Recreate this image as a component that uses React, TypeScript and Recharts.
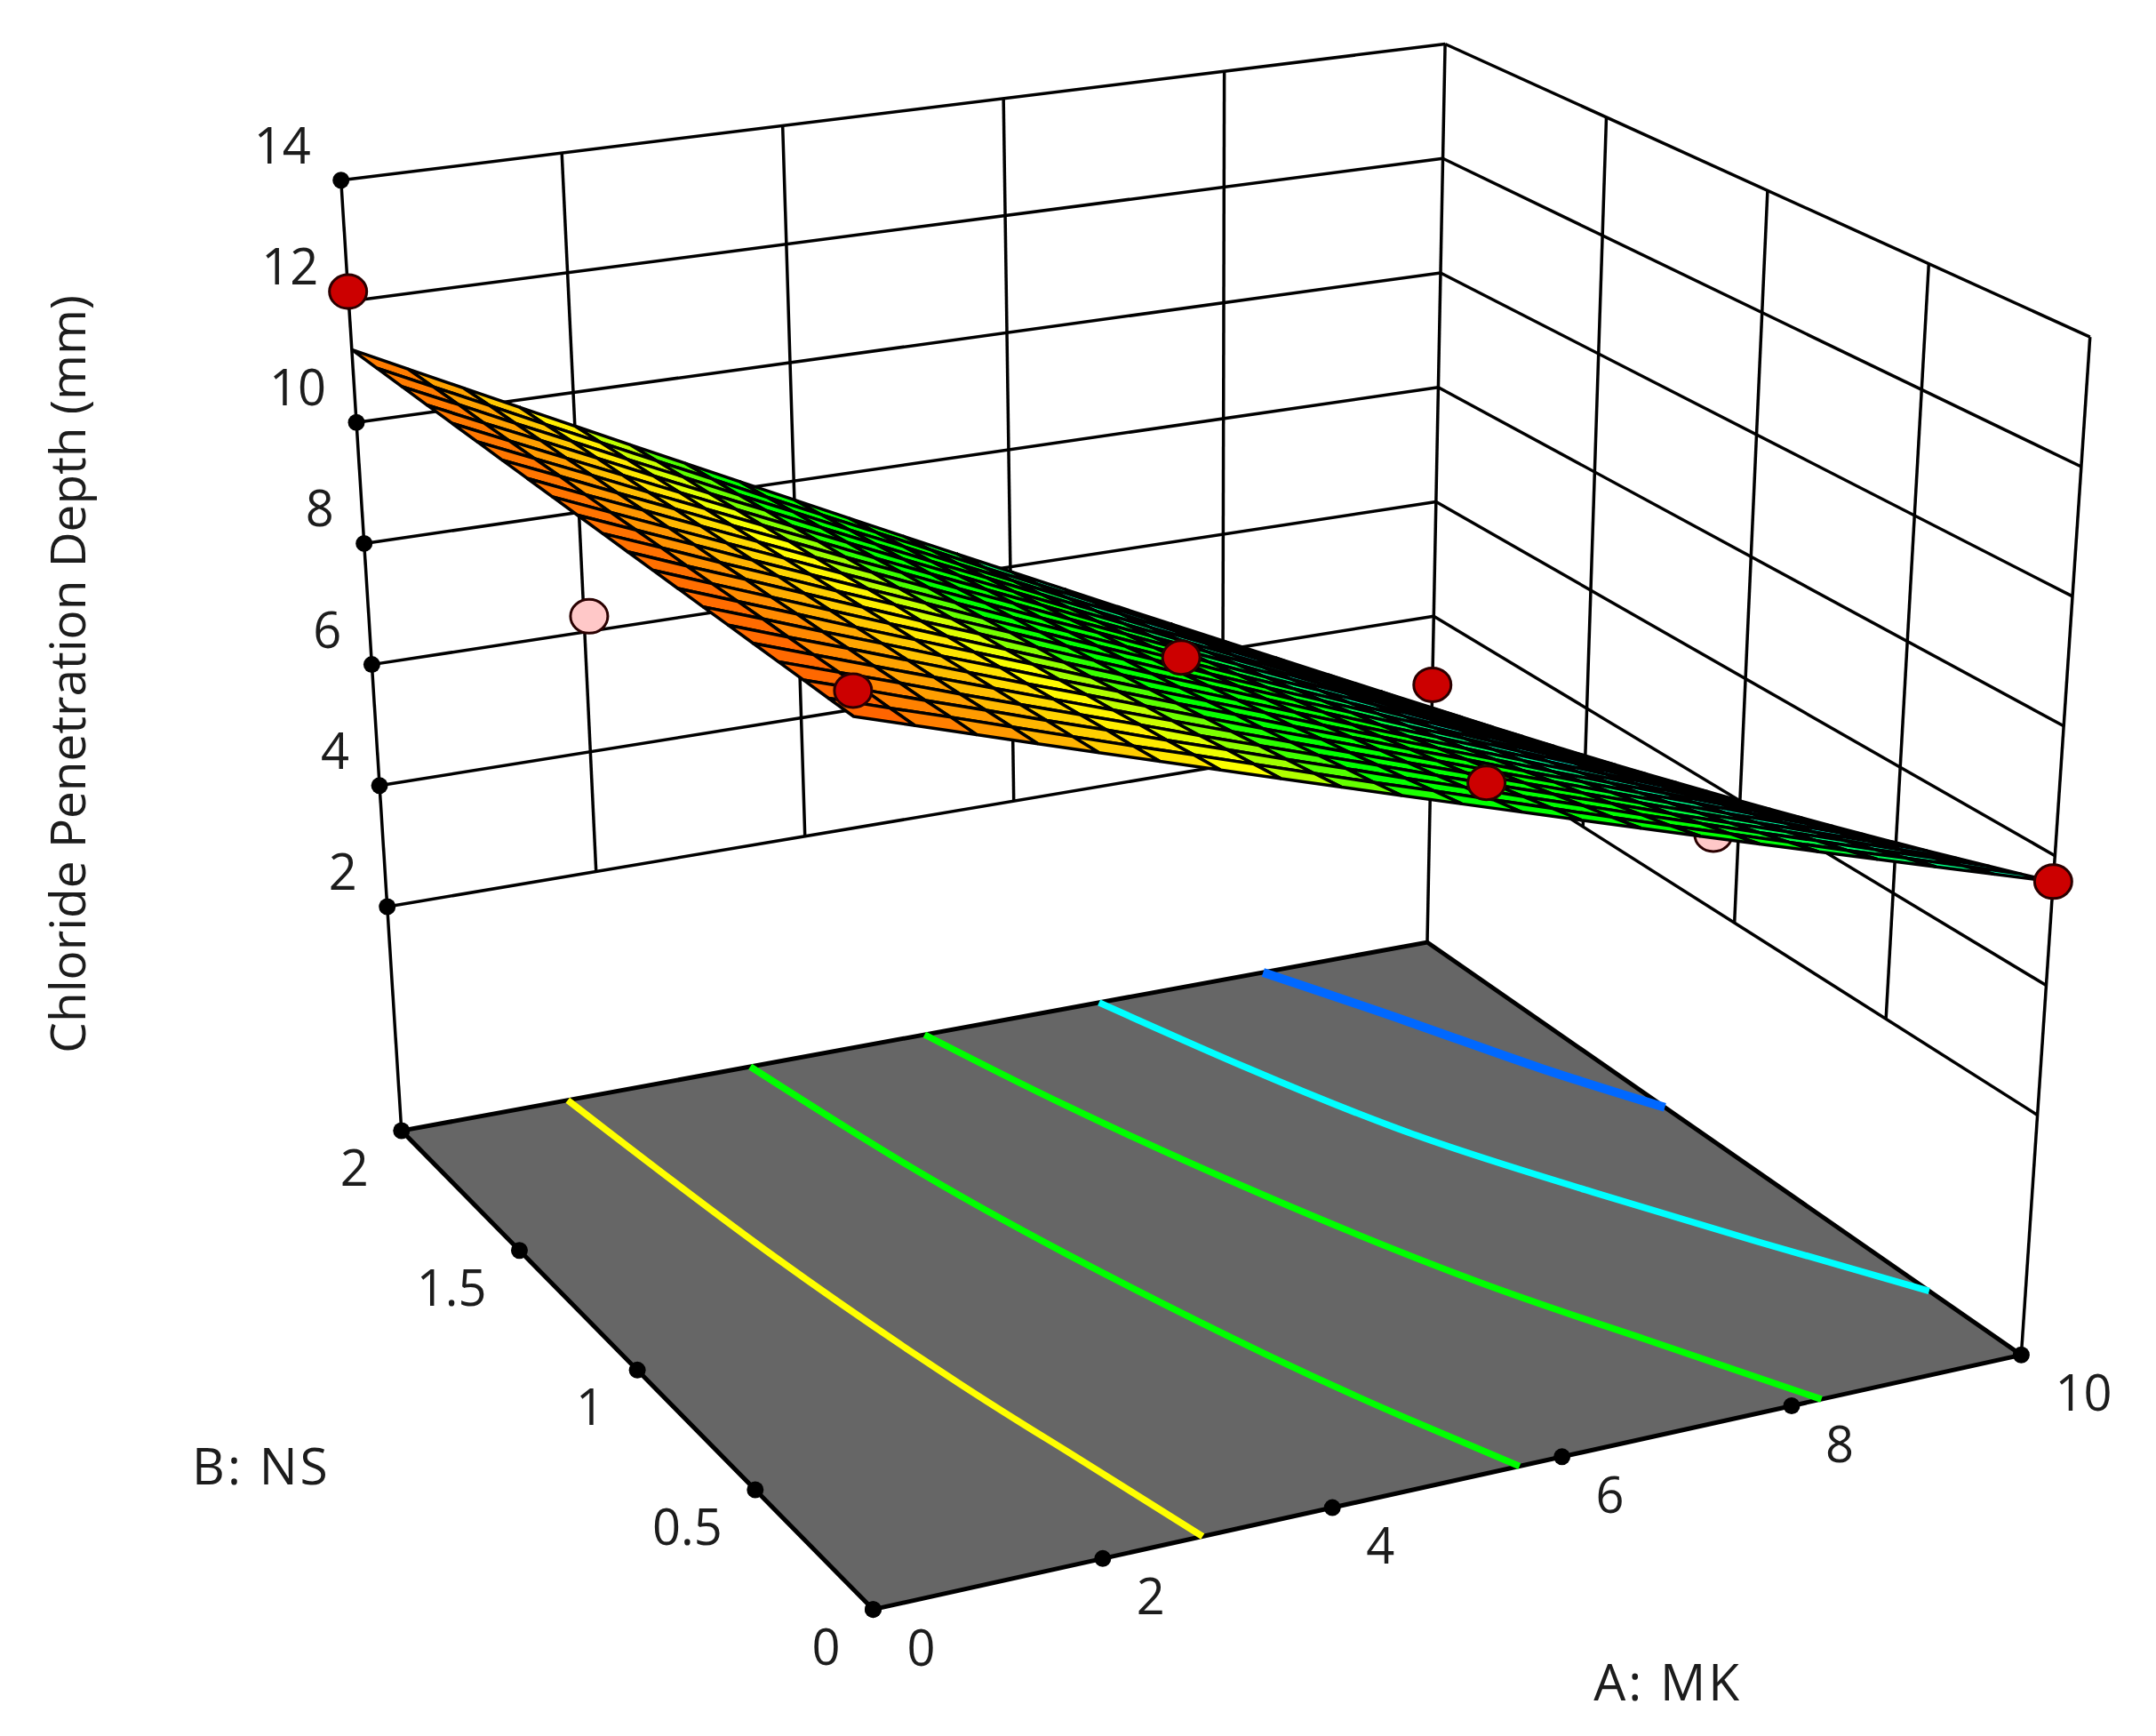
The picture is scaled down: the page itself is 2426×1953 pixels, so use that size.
import { Polygon, Scatter, ScatterChart, XAxis, YAxis } from "recharts";

const A_TICKS = [0, 2, 4, 6, 8, 10];
const B_TICKS = [0, 0.5, 1, 1.5, 2];
const Z_TICKS = [2, 4, 6, 8, 10, 12, 14];

const GRID_A = [0, 0.5, 1, 1.5, 2, 2.5, 3, 3.5, 4, 4.5, 5, 5.5, 6, 6.5, 7, 7.5, 8, 8.5, 9, 9.5, 10];
const GRID_B = [0, 0.1, 0.2, 0.3, 0.4, 0.5, 0.6, 0.7, 0.8, 0.9, 1, 1.1, 1.2, 1.3, 1.4, 1.5, 1.6, 1.7, 1.8, 1.9, 2];

// depth, one row per GRID_B value
const DEPTH = [
  [11.4, 11.11, 10.82, 10.53, 10.24, 9.95, 9.66, 9.37, 9.08, 8.79, 8.5, 8.21, 7.92, 7.63, 7.34, 7.05, 6.76, 6.47, 6.18, 5.89, 5.6],
  [11.39, 11.09, 10.8, 10.5, 10.2, 9.9, 9.61, 9.31, 9.01, 8.71, 8.42, 8.12, 7.82, 7.52, 7.22, 6.93, 6.63, 6.33, 6.04, 5.74, 5.44],
  [11.38, 11.08, 10.77, 10.47, 10.16, 9.86, 9.55, 9.25, 8.94, 8.64, 8.33, 8.03, 7.72, 7.42, 7.11, 6.81, 6.5, 6.2, 5.89, 5.59, 5.28],
  [11.37, 11.06, 10.75, 10.43, 10.12, 9.81, 9.5, 9.18, 8.87, 8.56, 8.25, 7.93, 7.62, 7.31, 7.0, 6.68, 6.37, 6.06, 5.75, 5.43, 5.12],
  [11.36, 11.04, 10.72, 10.4, 10.08, 9.76, 9.44, 9.12, 8.8, 8.48, 8.16, 7.84, 7.52, 7.2, 6.88, 6.56, 6.24, 5.92, 5.6, 5.28, 4.96],
  [11.35, 11.02, 10.7, 10.37, 10.04, 9.71, 9.39, 9.06, 8.73, 8.4, 8.08, 7.75, 7.42, 7.09, 6.77, 6.44, 6.11, 5.78, 5.46, 5.13, 4.8],
  [11.34, 11.01, 10.67, 10.34, 10.0, 9.67, 9.33, 9.0, 8.66, 8.33, 7.99, 7.66, 7.32, 6.99, 6.65, 6.32, 5.98, 5.65, 5.31, 4.98, 4.64],
  [11.33, 10.99, 10.65, 10.3, 9.96, 9.62, 9.28, 8.93, 8.59, 8.25, 7.91, 7.56, 7.22, 6.88, 6.54, 6.19, 5.85, 5.51, 5.17, 4.82, 4.48],
  [11.32, 10.97, 10.62, 10.27, 9.92, 9.57, 9.22, 8.87, 8.52, 8.17, 7.82, 7.47, 7.12, 6.77, 6.42, 6.07, 5.72, 5.37, 5.02, 4.67, 4.32],
  [11.31, 10.95, 10.6, 10.24, 9.88, 9.52, 9.17, 8.81, 8.45, 8.09, 7.74, 7.38, 7.02, 6.66, 6.31, 5.95, 5.59, 5.23, 4.88, 4.52, 4.16],
  [11.3, 10.94, 10.57, 10.21, 9.84, 9.48, 9.11, 8.75, 8.38, 8.02, 7.65, 7.29, 6.92, 6.56, 6.19, 5.83, 5.46, 5.1, 4.73, 4.37, 4.0],
  [11.29, 10.92, 10.55, 10.17, 9.8, 9.43, 9.06, 8.68, 8.31, 7.94, 7.57, 7.19, 6.82, 6.45, 6.08, 5.7, 5.33, 4.96, 4.59, 4.21, 3.84],
  [11.28, 10.9, 10.52, 10.14, 9.76, 9.38, 9.0, 8.62, 8.24, 7.86, 7.48, 7.1, 6.72, 6.34, 5.96, 5.58, 5.2, 4.82, 4.44, 4.06, 3.68],
  [11.27, 10.88, 10.5, 10.11, 9.72, 9.33, 8.95, 8.56, 8.17, 7.78, 7.4, 7.01, 6.62, 6.23, 5.85, 5.46, 5.07, 4.68, 4.3, 3.91, 3.52],
  [11.26, 10.87, 10.47, 10.08, 9.68, 9.29, 8.89, 8.5, 8.1, 7.71, 7.31, 6.92, 6.52, 6.13, 5.73, 5.34, 4.94, 4.55, 4.15, 3.76, 3.36],
  [11.25, 10.85, 10.45, 10.04, 9.64, 9.24, 8.84, 8.43, 8.03, 7.63, 7.23, 6.82, 6.42, 6.02, 5.62, 5.21, 4.81, 4.41, 4.01, 3.6, 3.2],
  [11.24, 10.83, 10.42, 10.01, 9.6, 9.19, 8.78, 8.37, 7.96, 7.55, 7.14, 6.73, 6.32, 5.91, 5.5, 5.09, 4.68, 4.27, 3.86, 3.45, 3.04],
  [11.23, 10.81, 10.4, 9.98, 9.56, 9.14, 8.73, 8.31, 7.89, 7.47, 7.06, 6.64, 6.22, 5.8, 5.39, 4.97, 4.55, 4.13, 3.72, 3.3, 2.88],
  [11.22, 10.8, 10.37, 9.95, 9.52, 9.1, 8.67, 8.25, 7.82, 7.4, 6.97, 6.55, 6.12, 5.7, 5.27, 4.85, 4.42, 4.0, 3.57, 3.15, 2.72],
  [11.21, 10.78, 10.35, 9.91, 9.48, 9.05, 8.62, 8.18, 7.75, 7.32, 6.89, 6.45, 6.02, 5.59, 5.16, 4.72, 4.29, 3.86, 3.43, 2.99, 2.56],
  [11.2, 10.76, 10.32, 9.88, 9.44, 9.0, 8.56, 8.12, 7.68, 7.24, 6.8, 6.36, 5.92, 5.48, 5.04, 4.6, 4.16, 3.72, 3.28, 2.84, 2.4],
];

// design points as [A, B, depth]
const POINTS_ABOVE = [
  [0, 2, 12.16],
  [0, 0, 11.78],
  [5, 1, 7.9],
  [10, 2, 2.8],
  [5.2, 0, 8.75],
  [10, 0, 5.6],
];
const POINTS_BELOW = [
  [0, 1.07, 9.8],
  [10, 1.08, 3.2],
];

// floor contours as [A, B]
const CONTOUR_YELLOW = [[1.62, 2], [1.95, 1.3], [2.32, 0.72], [2.57, 0.4], [2.87, 0]];
const CONTOUR_GREEN_1 = [[3.4, 2], [3.75, 1.55], [4.2, 1.1], [4.79, 0.6], [5.25, 0.26], [5.63, 0]];
const CONTOUR_GREEN_2 = [[5.1, 2], [5.54, 1.64], [6.2, 1.17], [6.95, 0.7], [7.6, 0.36], [8.26, 0]];
const CONTOUR_CYAN = [[6.8, 2], [7.3, 1.65], [7.9, 1.28], [8.6, 0.95], [9.3, 0.63], [10, 0.31]];
const CONTOUR_BLUE = [[8.4, 2], [9, 1.71], [9.5, 1.44], [10, 1.2]];

const WIDTH = 2426;
const HEIGHT = 1953;
const FONT = "'Open Sans', sans-serif";
const TEXT_COLOR = "#1c1c1c";

const Z_FLOOR = -1.7;
const Z_TOP = 14;

// where the box corners land on the page
const FLOOR_A0 = [[635, 1170], [292, 822]];
const FLOOR_A10 = [[1470, 985], [1038, 685]];
const TOP_A0 = [[618, 392], [248, 131]];
const TOP_A10 = [[1520, 245], [1051, 32]];

const mix = (p: number, q: number, t: number) => p + (q - p) * t;

function project(a: number, b: number, z: number) {
  const u = a / 10;
  const v = b / 2;
  const w = (z - Z_FLOOR) / (Z_TOP - Z_FLOOR);
  const at = (i: number) =>
    mix(
      mix(mix(FLOOR_A0[0][i], FLOOR_A0[1][i], v), mix(FLOOR_A10[0][i], FLOOR_A10[1][i], v), u),
      mix(mix(TOP_A0[0][i], TOP_A0[1][i], v), mix(TOP_A10[0][i], TOP_A10[1][i], v), u),
      w,
    );
  return { x: at(0), y: at(1) };
}

const COLOR_STOPS = [
  [3.6, 0, 104, 255],
  [5.1, 0, 255, 255],
  [6.9, 0, 255, 0],
  [8.5, 0, 255, 0],
  [9.5, 255, 255, 0],
  [12.4, 255, 0, 0],
];

function depthColor(z: number) {
  const top = COLOR_STOPS.findIndex((s) => z <= s[0]);
  if (top === 0) return `rgb(${COLOR_STOPS[0].slice(1).join(",")})`;
  const hi = COLOR_STOPS[top < 0 ? COLOR_STOPS.length - 1 : top];
  const lo = COLOR_STOPS[top < 0 ? COLOR_STOPS.length - 2 : top - 1];
  const t = (z - lo[0]) / (hi[0] - lo[0]);
  return `rgb(${Math.round(mix(lo[1], hi[1], t))},${Math.round(mix(lo[2], hi[2], t))},${Math.round(mix(lo[3], hi[3], t))})`;
}

// back to front so nearer cells paint over farther ones
const cellVertices: { x: number; y: number }[] = [];
const cellColors: string[] = [];
for (let j = GRID_B.length - 2; j >= 0; j--) {
  for (let i = GRID_A.length - 2; i >= 0; i--) {
    const corners: [number, number][] = [[i, j], [i + 1, j], [i + 1, j + 1], [i, j + 1]];
    corners.forEach(([p, q]) => cellVertices.push(project(GRID_A[p], GRID_B[q], DEPTH[q][p])));
    cellColors.push(depthColor((DEPTH[j][i] + DEPTH[j][i + 1] + DEPTH[j + 1][i] + DEPTH[j + 1][i + 1]) / 4));
  }
}

function drawCells(props: any) {
  const cells = [];
  for (let k = 0; k < cellColors.length; k++) {
    cells.push(
      <Polygon
        key={k}
        points={props.points.slice(k * 4, k * 4 + 4)}
        fill={cellColors[k]}
        stroke="#000"
        strokeWidth={3.5}
      />,
    );
  }
  return <g>{cells}</g>;
}

const floorVertices = [project(0, 0, Z_FLOOR), project(10, 0, Z_FLOOR), project(10, 2, Z_FLOOR), project(0, 2, Z_FLOOR)];

function drawFloor(props: any) {
  return <Polygon points={props.points} fill="#666666" stroke="#000" strokeWidth={5} />;
}

const wallLines = [
  ...A_TICKS.map((a) => [project(a, 2, a === 0 || a === 10 ? Z_FLOOR : 2), project(a, 2, Z_TOP)]),
  ...B_TICKS.filter((b) => b < 2).map((b) => [project(10, b, b === 0 ? Z_FLOOR : 2), project(10, b, Z_TOP)]),
  ...Z_TICKS.map((z) => [project(0, 2, z), project(10, 2, z)]),
  ...Z_TICKS.map((z) => [project(10, 2, z), project(10, 0, z)]),
];

const contours = [
  { points: CONTOUR_YELLOW, color: "#ffff00", width: 7.5 },
  { points: CONTOUR_GREEN_1, color: "#00ff00", width: 7.5 },
  { points: CONTOUR_GREEN_2, color: "#00ff00", width: 7.5 },
  { points: CONTOUR_CYAN, color: "#00ffff", width: 7.5 },
  { points: CONTOUR_BLUE, color: "#0068ff", width: 10 },
];

const zTickData = Z_TICKS.map((z) => ({ ...project(0, 2, z), label: String(z), dx: -34, dy: -41, anchor: "end" }));
const bTickData = B_TICKS.map((b) => ({ ...project(0, b, Z_FLOOR), label: String(b), dx: -37, dy: 40, anchor: "end" }));
const aTickData = A_TICKS.map((a) => ({ ...project(a, 0, Z_FLOOR), label: String(a), dx: 38, dy: 41, anchor: "start" }));

const axisTitles = [
  { x: 48, y: 490, label: "Chloride Penetration Depth (mm)", angle: -90, size: 55, spacing: 0 },
  { x: 190, y: 1065, label: "B: NS", angle: 0, size: 57, spacing: 3 },
  { x: 1213, y: 1222, label: "A: MK", angle: 0, size: 57, spacing: 3 },
];

const noDot = () => <g />;

function TickMark(props: any) {
  const { cx, cy, payload } = props;
  return (
    <g>
      <circle cx={cx} cy={cy} r={9.5} fill="#000" />
      <text
        x={cx + payload.dx}
        y={cy + payload.dy}
        textAnchor={payload.anchor}
        dominantBaseline="central"
        fontFamily={FONT}
        fontSize={56}
        fill={TEXT_COLOR}
      >
        {payload.label}
      </text>
    </g>
  );
}

function AxisTitle(props: any) {
  const { cx, cy, payload } = props;
  return (
    <text
      x={cx}
      y={cy}
      textAnchor="middle"
      dominantBaseline="central"
      transform={`rotate(${payload.angle} ${cx} ${cy})`}
      fontFamily={FONT}
      fontSize={payload.size}
      letterSpacing={payload.spacing}
      fill={TEXT_COLOR}
    >
      {payload.label}
    </text>
  );
}

const designDot = (fill: string) => (props: any) => (
  <ellipse cx={props.cx} cy={props.cy} rx={21} ry={19} fill={fill} stroke="#2a0000" strokeWidth={3} />
);

const toDesignData = (rows: number[][]) => rows.map((r) => project(r[0], r[1], r[2]));

export default function App() {
  return (
    <div style={{ position: "absolute", left: 0, top: 0, width: WIDTH, height: HEIGHT, background: "#fff" }}>
      <ScatterChart width={WIDTH} height={HEIGHT} margin={{ top: 0, right: 0, bottom: 0, left: 0 }}>
        <XAxis type="number" dataKey="x" domain={[0, 1568]} allowDataOverflow hide />
        <YAxis type="number" dataKey="y" domain={[0, 1262]} reversed allowDataOverflow hide />

        <Scatter data={floorVertices} shape={noDot} line={drawFloor} isAnimationActive={false} />
        {contours.map((c, i) => (
          <Scatter
            key={`contour-${i}`}
            data={c.points.map((p) => project(p[0], p[1], Z_FLOOR))}
            shape={noDot}
            line={{ stroke: c.color, strokeWidth: c.width }}
            lineJointType="natural"
            isAnimationActive={false}
          />
        ))}
        {wallLines.map((points, i) => (
          <Scatter
            key={`wall-${i}`}
            data={points}
            shape={noDot}
            line={{ stroke: "#000", strokeWidth: 3.5 }}
            isAnimationActive={false}
          />
        ))}
        <Scatter data={zTickData} shape={TickMark} isAnimationActive={false} />
        <Scatter data={bTickData} shape={TickMark} isAnimationActive={false} />
        <Scatter data={aTickData} shape={TickMark} isAnimationActive={false} />
        <Scatter data={toDesignData(POINTS_BELOW)} shape={designDot("#ffc8c8")} isAnimationActive={false} />
        <Scatter data={cellVertices} shape={noDot} line={drawCells} isAnimationActive={false} />
        <Scatter data={toDesignData(POINTS_ABOVE)} shape={designDot("#cc0000")} isAnimationActive={false} />
        <Scatter data={axisTitles} shape={AxisTitle} isAnimationActive={false} />
      </ScatterChart>
    </div>
  );
}
